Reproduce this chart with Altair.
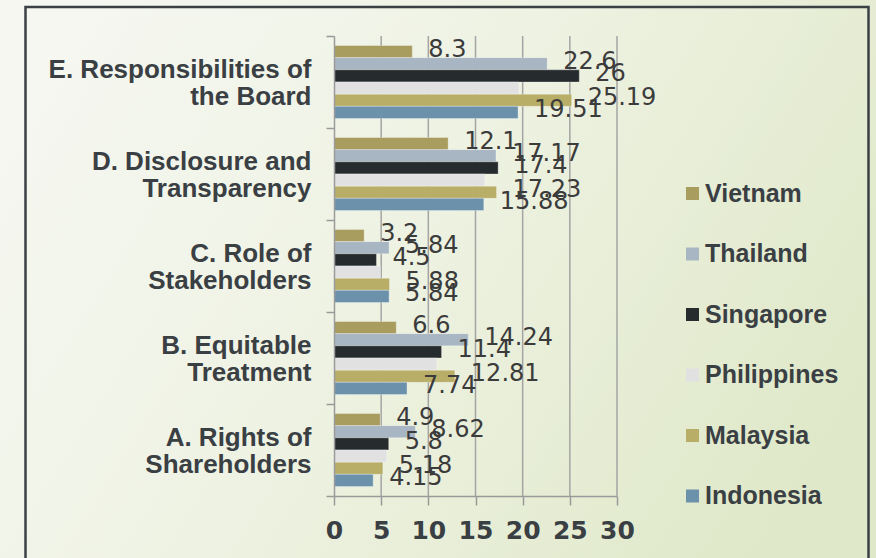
import altair as alt
import pandas as pd

categories = [
    "E. Responsibilities of|the Board",
    "D. Disclosure and|Transparency",
    "C. Role of|Stakeholders",
    "B. Equitable|Treatment",
    "A. Rights of|Shareholders",
]
countries = ["Vietnam", "Thailand", "Singapore", "Philippines", "Malaysia", "Indonesia"]
colors = ["#a89d5f", "#a8b6c3", "#262b2e", "#e1e1e1", "#b8ae68", "#6b91ab"]

vietnam = [8.3, 12.1, 3.2, 6.6, 4.9]
thailand = [22.6, 17.17, 5.84, 14.24, 8.62]
singapore = [26, 17.4, 4.5, 11.4, 5.8]
philippines = [19.6, 16.0, 4.9, 10.9, 5.6]  # unlabeled in source, estimated
malaysia = [25.19, 17.23, 5.88, 12.81, 5.18]
indonesia = [19.51, 15.88, 5.84, 7.74, 4.15]
show_label = [True, True, True, False, True, True]

x_ticks = [0, 5, 10, 15, 20, 25, 30]
grid_values = [5, 10, 15, 20, 25, 30]

series = [vietnam, thailand, singapore, philippines, malaysia, indonesia]
rows = []
for ci, c in enumerate(countries):
    for ki, cat in enumerate(categories):
        v = series[ci][ki]
        rows.append({"cat": cat, "country": c, "value": v,
                     "label": (f"{v:g}" if show_label[ci] else "")})
df = pd.DataFrame(rows)

W, H = 283, 460
LEFT, TOP = 334, 36
TOTAL_W, TOTAL_H = 876, 558

xscale = alt.Scale(domain=[0, 30], nice=False, zero=True)
yscale = alt.Scale(paddingInner=0, paddingOuter=0)
yoff_scale = alt.Scale(paddingInner=0, paddingOuter=0.78)

one = pd.DataFrame({"a": [0]})

bg = alt.Chart(one).mark_rect(
    color=alt.LinearGradient(
        gradient="linear",
        stops=[alt.GradientStop(color="#f5f7f0", offset=0),
               alt.GradientStop(color="#eef2e2", offset=0.45),
               alt.GradientStop(color="#dfe8c8", offset=1)],
        x1=0, y1=0.3, x2=1, y2=0.7,
    )
).encode(
    x=alt.value(-LEFT), x2=alt.value(TOTAL_W - LEFT),
    y=alt.value(-TOP), y2=alt.value(TOTAL_H - TOP),
)

grid = alt.Chart(pd.DataFrame({"v": grid_values})).mark_rule(
    color="#a4a4a4", strokeWidth=1.5
).encode(x=alt.X("v:Q", scale=xscale))

bars = alt.Chart(df).mark_bar(
    stroke="#ffffff", strokeWidth=0.6, strokeOpacity=0.5
).encode(
    x=alt.X("value:Q", scale=xscale, title=None,
            axis=alt.Axis(values=x_ticks, grid=False, zindex=1,
                          domainColor="#9a9a9a", domainWidth=1.5,
                          tickColor="#9a9a9a", tickWidth=1.5, tickSize=9,
                          labelFont="DejaVu Sans", labelFontWeight="bold",
                          labelFontSize=25, labelColor="#3a3f44",
                          labelPadding=13, labelFlush=False)),
    y=alt.Y("cat:N", sort=categories, scale=yscale, title=None,
            axis=alt.Axis(labelExpr="split(datum.label, '|')", zindex=1,
                          tickBand="extent", tickSize=8, tickColor="#9a9a9a",
                          tickWidth=1.5, domainColor="#9a9a9a", domainWidth=1.5,
                          labelFont="Liberation Sans", labelFontWeight="bold",
                          labelFontSize=26, labelColor="#3a3f44",
                          labelLineHeight=27, labelPadding=15, labelLimit=400,
                          labelOffset=-13,
                          labelAlign="right", labelBaseline="middle")),
    yOffset=alt.YOffset("country:N", sort=countries, scale=yoff_scale),
    color=alt.Color("country:N", sort=countries,
                    scale=alt.Scale(domain=countries, range=colors),
                    legend=alt.Legend(orient="none", legendX=346, legendY=145,
                                      title=None, symbolType="square",
                                      symbolSize=169, symbolStrokeWidth=0,
                                      labelFont="Liberation Sans",
                                      labelFontWeight="bold", labelFontSize=25,
                                      labelColor="#3a3f44", rowPadding=34.5,
                                      labelOffset=0, padding=0, labelLimit=300)),
)

texts = alt.Chart(df).mark_text(
    align="left", baseline="middle", dx=16, dy=-2,
    font="DejaVu Sans", fontSize=24, color="#3b3b3b"
).encode(
    x=alt.X("value:Q", scale=xscale),
    y=alt.Y("cat:N", sort=categories, scale=yscale),
    yOffset=alt.YOffset("country:N", sort=countries, scale=yoff_scale),
    text="label:N",
)

border = alt.Chart(one).mark_rect(
    fillOpacity=0, stroke="#3b4045", strokeWidth=2.5
).encode(
    x=alt.value(25.5 - LEFT), x2=alt.value(868.5 - LEFT),
    y=alt.value(7 - TOP), y2=alt.value(TOTAL_H - TOP + 40),
)

chart = alt.layer(bg, grid, bars, texts, border).properties(
    width=W, height=H,
    autosize=alt.AutoSizeParams(type="none"),
    padding={"left": LEFT, "top": TOP, "right": TOTAL_W - LEFT - W,
             "bottom": TOTAL_H - TOP - H},
).configure_view(stroke=None).configure(background="#f2f5ea")

chart.save("out.html", embed_options={"renderer": "svg", "actions": False})
